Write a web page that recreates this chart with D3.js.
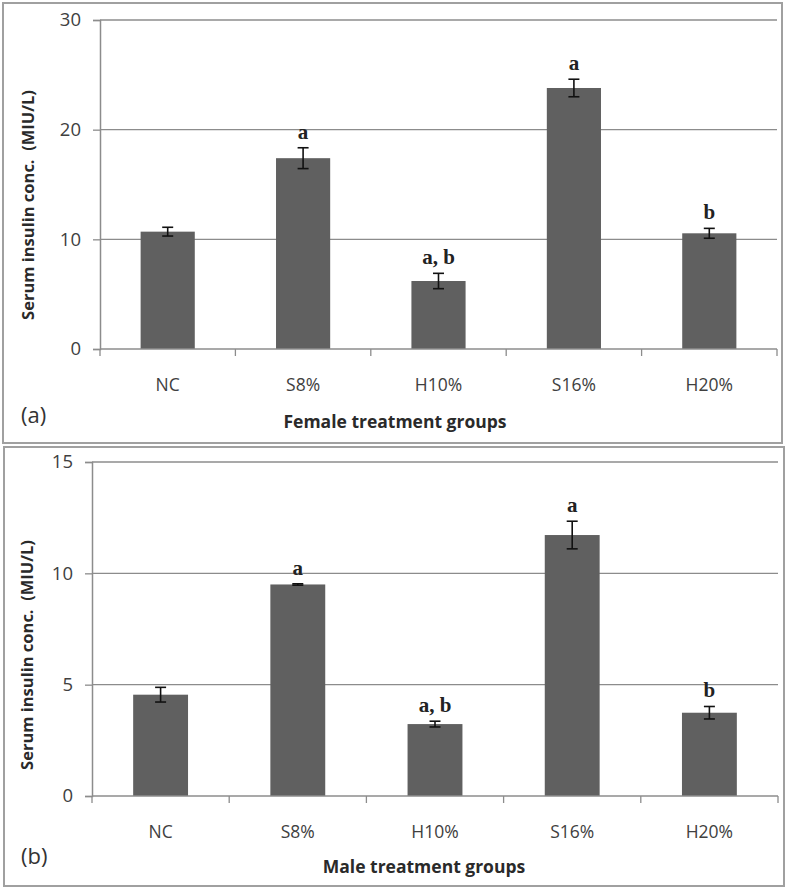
<!DOCTYPE html>
<html>
<head>
<meta charset="utf-8">
<script src="https://cdn.jsdelivr.net/npm/d3@7"></script>
<style>
  body { margin: 0; background: #fff; }
  svg { display: block; }
</style>
</head>
<body>
<script>
const width = 787;
const height = 890;

// data
const groups = ["NC", "S8%", "H10%", "S16%", "H20%"];
const femaleMeans = [10.7, 17.4, 6.2, 23.8, 10.55];
const femaleErr = [0.4, 0.95, 0.7, 0.8, 0.45];
const maleMeans = [4.55, 9.5, 3.23, 11.72, 3.74];
const maleErr = [0.33, 0.03, 0.13, 0.62, 0.28];
const sigLetters = ["", "a", "a, b", "a", "b"];
const femaleTicks = [0, 10, 20, 30];
const maleTicks = [0, 5, 10, 15];

const sans = "'Open Sans', 'Noto Sans', sans-serif";

const svg = d3.select("body").append("svg")
	.attr("width", width)
	.attr("height", height);

function panel(opt) {
	const g = svg.append("g");

	// frame
	g.append("rect")
		.attr("x", opt.box[0]).attr("y", opt.box[1])
		.attr("width", opt.box[2]).attr("height", opt.box[3])
		.attr("fill", "#fff")
		.attr("stroke", "#a0a0a0")
		.attr("stroke-width", 2);

	const x = d3.scaleBand()
		.domain(groups)
		.range([opt.left, opt.right])
		.paddingInner(0.6)
		.paddingOuter(0.3);

	const y = d3.scaleLinear()
		.domain([0, opt.max])
		.range([opt.bottom, opt.top]);

	// gridlines
	g.selectAll(".grid")
		.data(opt.ticks.filter(d => d > 0))
		.enter().append("line")
		.attr("x1", opt.left).attr("x2", opt.right)
		.attr("y1", d => y(d)).attr("y2", d => y(d))
		.attr("stroke", "#8c8c8c")
		.attr("stroke-width", 1.3);

	// y axis
	const yAxis = g.append("g")
		.attr("transform", "translate(" + opt.left + ",0)")
		.call(d3.axisLeft(y).tickValues(opt.ticks).tickSize(7).tickPadding(12));
	yAxis.select(".domain").attr("stroke", "#8c8c8c").attr("stroke-width", 1.5);
	yAxis.selectAll(".tick line").attr("stroke", "#8c8c8c").attr("stroke-width", 1.3);
	yAxis.selectAll(".tick text")
		.attr("font-family", sans)
		.attr("font-size", 18.5)
		.attr("fill", "#404040");

	// bars
	g.selectAll(".bar")
		.data(opt.means)
		.enter().append("rect")
		.attr("x", (d, i) => x(groups[i]))
		.attr("y", d => y(d))
		.attr("width", x.bandwidth())
		.attr("height", d => opt.bottom - y(d))
		.attr("fill", "#606060");

	// x axis with ticks between categories
	const step = x.step();
	const xAxis = g.append("g");
	xAxis.append("line")
		.attr("x1", opt.left).attr("x2", opt.right)
		.attr("y1", opt.bottom).attr("y2", opt.bottom)
		.attr("stroke", "#8c8c8c").attr("stroke-width", 1.5);
	xAxis.selectAll(".xt")
		.data(d3.range(groups.length + 1))
		.enter().append("line")
		.attr("x1", i => opt.left + i * step).attr("x2", i => opt.left + i * step)
		.attr("y1", opt.bottom).attr("y2", opt.bottom + 7)
		.attr("stroke", "#8c8c8c").attr("stroke-width", 1.3);
	xAxis.selectAll(".xl")
		.data(groups)
		.enter().append("text")
		.attr("x", d => x(d) + x.bandwidth() / 2)
		.attr("y", opt.catY)
		.attr("text-anchor", "middle")
		.attr("font-family", sans)
		.attr("font-size", 17.5)
		.attr("fill", "#404040")
		.text(d => d);

	// error bars
	const eb = g.selectAll(".err")
		.data(opt.means)
		.enter().append("g")
		.attr("stroke", "#111")
		.attr("stroke-width", 1.6);
	eb.append("line")
		.attr("x1", (d, i) => x(groups[i]) + x.bandwidth() / 2)
		.attr("x2", (d, i) => x(groups[i]) + x.bandwidth() / 2)
		.attr("y1", (d, i) => y(d + opt.err[i]))
		.attr("y2", (d, i) => y(d - opt.err[i]));
	[1, -1].forEach(function (s) {
		eb.append("line")
			.attr("x1", (d, i) => x(groups[i]) + x.bandwidth() / 2 - 5.5)
			.attr("x2", (d, i) => x(groups[i]) + x.bandwidth() / 2 + 5.5)
			.attr("y1", (d, i) => y(d + s * opt.err[i]))
			.attr("y2", (d, i) => y(d + s * opt.err[i]));
	});

	// significance letters
	g.selectAll(".sig")
		.data(opt.means)
		.enter().append("text")
		.attr("x", (d, i) => x(groups[i]) + x.bandwidth() / 2)
		.attr("y", (d, i) => y(d + opt.err[i]) - 9)
		.attr("text-anchor", "middle")
		.attr("font-family", "'Liberation Serif', 'Times New Roman', serif")
		.attr("font-weight", "bold")
		.attr("font-size", 21)
		.attr("fill", "#222")
		.text((d, i) => sigLetters[i]);

	// axis titles
	g.append("text")
		.attr("x", opt.titleX)
		.attr("y", opt.titleY)
		.attr("text-anchor", "middle")
		.attr("font-family", sans)
		.attr("font-weight", "bold")
		.attr("font-size", 17.5)
		.attr("fill", "#2a2a2a")
		.text(opt.title);

	g.append("text")
		.attr("transform", "translate(" + opt.yTitleX + "," + opt.yTitleY + ") rotate(-90)")
		.attr("text-anchor", "middle")
		.attr("font-family", sans)
		.attr("font-weight", "bold")
		.attr("font-size", 16.5)
		.attr("fill", "#2a2a2a")
		.style("white-space", "pre")
		.text("Serum insulin conc.  (MIU/L)");

	g.append("text")
		.attr("x", 21)
		.attr("y", opt.tagY)
		.attr("font-family", sans)
		.attr("font-size", 22)
		.attr("fill", "#333")
		.text(opt.tag);
}

panel({
	box: [3, 3, 779, 440],
	left: 100, right: 777, top: 20, bottom: 349,
	max: 30, ticks: femaleTicks,
	means: femaleMeans, err: femaleErr,
	catY: 391, title: "Female treatment groups", titleX: 395, titleY: 428,
	yTitleX: 34, yTitleY: 205, tag: "(a)", tagY: 423
});

panel({
	box: [4, 447, 780, 439],
	left: 92, right: 778, top: 462, bottom: 796,
	max: 15, ticks: maleTicks,
	means: maleMeans, err: maleErr,
	catY: 838, title: "Male treatment groups", titleX: 424, titleY: 873,
	yTitleX: 33, yTitleY: 655, tag: "(b)", tagY: 864
});
</script>
</body>
</html>
